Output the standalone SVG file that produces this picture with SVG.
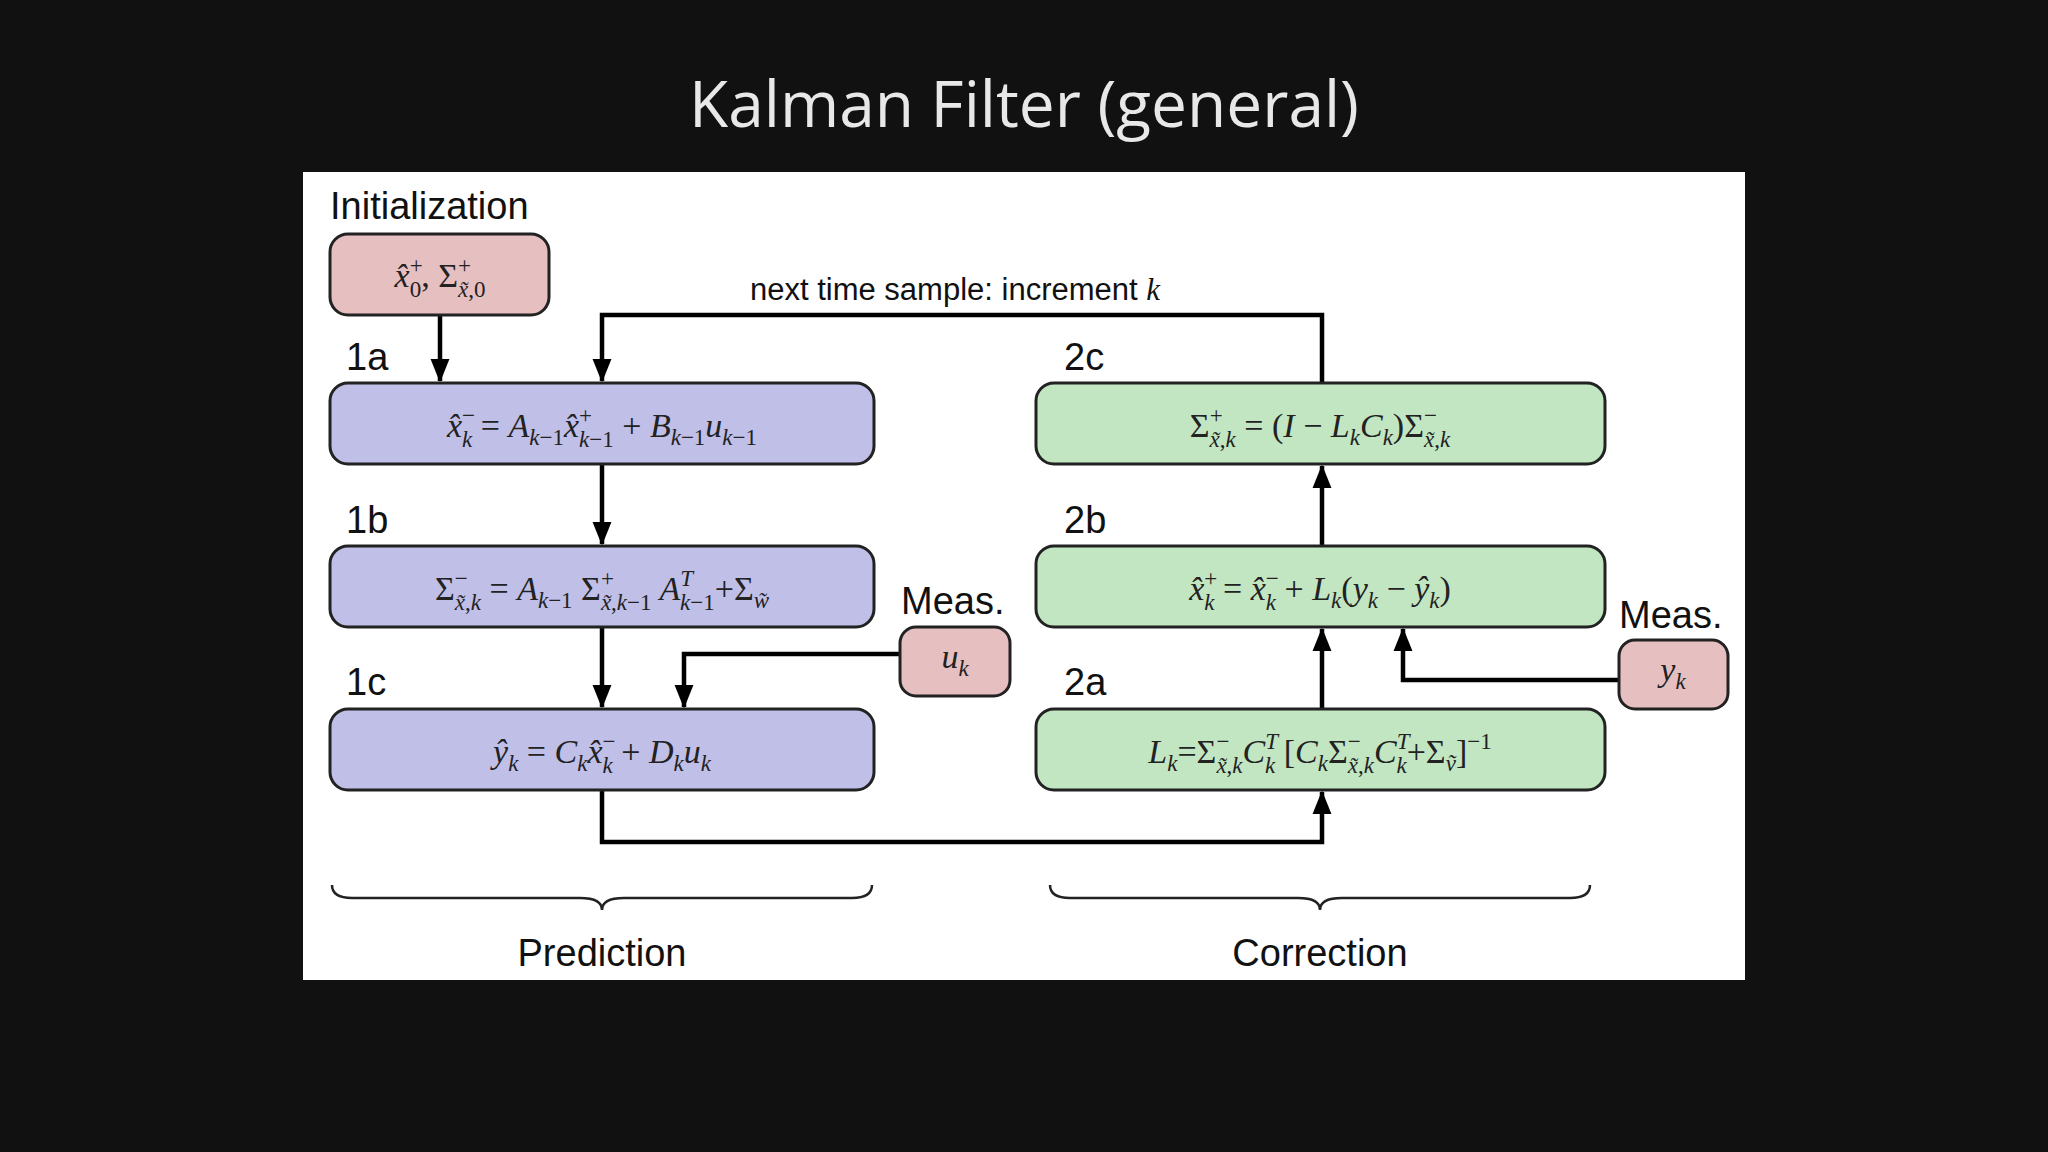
<svg xmlns="http://www.w3.org/2000/svg" width="2048" height="1152" viewBox="0 0 2048 1152">
<defs>
<marker id="ah" markerUnits="userSpaceOnUse" markerWidth="24" markerHeight="30" refX="28" refY="12" viewBox="0 0 30 24" orient="auto"><path d="M0,0 L30,12 L0,24 Z" fill="#000"/></marker>
<style>
.lbl{font-family:"Liberation Sans",Arial,sans-serif;font-size:38px;fill:#111}
.m{font-family:"Liberation Serif","Times New Roman",serif;font-style:italic;font-size:34px;fill:#222}
.n{font-style:normal}
.s{font-size:23px}
.box{stroke:#222;stroke-width:3}
.p{fill:#bfbfe8}.g{fill:#c2e6c2}.r{fill:#e6bfc0}
.c{fill:none;stroke:#000;stroke-width:4.5}
</style>
</defs>
<rect width="2048" height="1152" fill="#111"/>
<text x="1024" y="127" text-anchor="middle" font-family="'Open Sans',sans-serif" font-size="64" fill="#e8e8e8">Kalman Filter (general)</text>
<rect x="303" y="172" width="1442" height="808" fill="#fff"/>

<g id="connectors">
<path class="c" d="M440,315 V381" marker-end="url(#ah)"/>
<path class="c" d="M1322,383 V315 H602 V381" marker-end="url(#ah)"/>
<path class="c" d="M602,464 V544" marker-end="url(#ah)"/>
<path class="c" d="M602,627 V707" marker-end="url(#ah)"/>
<path class="c" d="M900,654 H684 V707" marker-end="url(#ah)"/>
<path class="c" d="M602,790 V842 H1322 V792" marker-end="url(#ah)"/>
<path class="c" d="M1322,709 V629" marker-end="url(#ah)"/>
<path class="c" d="M1322,546 V466" marker-end="url(#ah)"/>
<path class="c" d="M1619,680 H1403 V629" marker-end="url(#ah)"/>
<text x="955" y="300" text-anchor="middle" font-family="'Liberation Sans',sans-serif" font-size="31" fill="#111">next time sample: increment <tspan font-family="'Liberation Serif',serif" font-style="italic">k</tspan></text>
</g>

<g id="init">
<text class="lbl" x="330" y="219">Initialization</text>
<rect class="box r" x="330" y="234" width="219" height="81" rx="18"/>
<text class="m" x="440" y="287" text-anchor="middle">x̂<tspan class="s n" dy="-14">+</tspan><tspan class="s n" dx="-13" dy="24">0</tspan><tspan class="n" dy="-10">, Σ</tspan><tspan class="s n" dy="-14">+</tspan><tspan class="s" dx="-13" dy="24">x̃<tspan class="n">,0</tspan></tspan></text>
</g>

<g id="n1a">
<text class="lbl" x="346" y="370">1a</text>
<rect class="box p" x="330" y="383" width="544" height="81" rx="18"/>
<text class="m" x="602" y="437" text-anchor="middle">x̂<tspan class="s n" dy="-14">−</tspan><tspan class="s" dx="-13" dy="24">k</tspan><tspan class="n" dy="-10"> = </tspan>A<tspan class="s" dy="8">k<tspan class="n">−1</tspan></tspan><tspan dy="-8">x̂</tspan><tspan class="s n" dy="-14">+</tspan><tspan class="s" dx="-13" dy="24">k<tspan class="n">−1</tspan></tspan><tspan class="n" dy="-10"> + </tspan>B<tspan class="s" dy="8">k<tspan class="n">−1</tspan></tspan><tspan dy="-8">u</tspan><tspan class="s" dy="8">k<tspan class="n">−1</tspan></tspan></text>
</g>

<g id="n1b">
<text class="lbl" x="346" y="533">1b</text>
<rect class="box p" x="330" y="546" width="544" height="81" rx="18"/>
<text class="m" x="602" y="600" text-anchor="middle"><tspan class="n">Σ</tspan><tspan class="s n" dy="-14">−</tspan><tspan class="s" dx="-13" dy="24">x̃<tspan class="n">,</tspan>k</tspan><tspan class="n" dy="-10"> = </tspan>A<tspan class="s" dy="8">k<tspan class="n">−1</tspan></tspan><tspan class="n" dy="-8"> Σ</tspan><tspan class="s n" dy="-14">+</tspan><tspan class="s" dx="-13" dy="24">x̃<tspan class="n">,</tspan>k<tspan class="n">−1</tspan></tspan><tspan dy="-10"> A</tspan><tspan class="s" dy="-14">T</tspan><tspan class="s" dx="-13" dy="24">k<tspan class="n">−1</tspan></tspan><tspan class="n" dy="-10">+Σ</tspan><tspan class="s" dy="8">w̃</tspan></text>
</g>

<g id="n1c">
<text class="lbl" x="346" y="695">1c</text>
<rect class="box p" x="330" y="709" width="544" height="81" rx="18"/>
<text class="m" x="602" y="763" text-anchor="middle">ŷ<tspan class="s" dy="8">k</tspan><tspan class="n" dy="-8"> = </tspan>C<tspan class="s" dy="8">k</tspan><tspan dy="-8">x̂</tspan><tspan class="s n" dy="-14">−</tspan><tspan class="s" dx="-13" dy="24">k</tspan><tspan class="n" dy="-10"> + </tspan>D<tspan class="s" dy="8">k</tspan><tspan dy="-8">u</tspan><tspan class="s" dy="8">k</tspan></text>
</g>

<g id="meas-u">
<text class="lbl" x="901" y="614">Meas.</text>
<rect class="box r" x="900" y="627" width="110" height="69" rx="16"/>
<text class="m" x="955" y="668" text-anchor="middle">u<tspan class="s" dy="8">k</tspan></text>
</g>

<g id="n2c">
<text class="lbl" x="1064" y="370">2c</text>
<rect class="box g" x="1036" y="383" width="569" height="81" rx="18"/>
<text class="m" x="1320" y="437" text-anchor="middle"><tspan class="n">Σ</tspan><tspan class="s n" dy="-14">+</tspan><tspan class="s" dx="-13" dy="24">x̃<tspan class="n">,</tspan>k</tspan><tspan class="n" dy="-10"> = (</tspan>I<tspan class="n"> − </tspan>L<tspan class="s" dy="8">k</tspan><tspan dy="-8">C</tspan><tspan class="s" dy="8">k</tspan><tspan class="n" dy="-8">)Σ</tspan><tspan class="s n" dy="-14">−</tspan><tspan class="s" dx="-13" dy="24">x̃<tspan class="n">,</tspan>k</tspan></text>
</g>

<g id="n2b">
<text class="lbl" x="1064" y="533">2b</text>
<rect class="box g" x="1036" y="546" width="569" height="81" rx="18"/>
<text class="m" x="1320" y="600" text-anchor="middle">x̂<tspan class="s n" dy="-14">+</tspan><tspan class="s" dx="-13" dy="24">k</tspan><tspan class="n" dy="-10"> = </tspan>x̂<tspan class="s n" dy="-14">−</tspan><tspan class="s" dx="-13" dy="24">k</tspan><tspan class="n" dy="-10"> + </tspan>L<tspan class="s" dy="8">k</tspan><tspan class="n" dy="-8">(</tspan>y<tspan class="s" dy="8">k</tspan><tspan class="n" dy="-8"> − </tspan>ŷ<tspan class="s" dy="8">k</tspan><tspan class="n" dy="-8">)</tspan></text>
</g>

<g id="n2a">
<text class="lbl" x="1064" y="695">2a</text>
<rect class="box g" x="1036" y="709" width="569" height="81" rx="18"/>
<text class="m" x="1320" y="763" text-anchor="middle">L<tspan class="s" dy="8">k</tspan><tspan class="n" dy="-8">=Σ</tspan><tspan class="s n" dy="-14">−</tspan><tspan class="s" dx="-13" dy="24">x̃<tspan class="n">,</tspan>k</tspan><tspan dy="-10">C</tspan><tspan class="s" dy="-14">T</tspan><tspan class="s" dx="-13" dy="24">k</tspan><tspan class="n" dy="-10"> [</tspan>C<tspan class="s" dy="8">k</tspan><tspan class="n" dy="-8">Σ</tspan><tspan class="s n" dy="-14">−</tspan><tspan class="s" dx="-13" dy="24">x̃<tspan class="n">,</tspan>k</tspan><tspan dy="-10">C</tspan><tspan class="s" dy="-14">T</tspan><tspan class="s" dx="-13" dy="24">k</tspan><tspan class="n" dy="-10">+Σ</tspan><tspan class="s" dy="8">ṽ</tspan><tspan class="n" dy="-8">]</tspan><tspan class="s n" dy="-14">−1</tspan></text>
</g>

<g id="meas-y">
<text class="lbl" x="1619" y="628">Meas.</text>
<rect class="box r" x="1619" y="640" width="109" height="69" rx="16"/>
<text class="m" x="1673" y="681" text-anchor="middle">y<tspan class="s" dy="8">k</tspan></text>
</g>

<g id="prediction">
<path d="M332,885 Q332,898 352,898 L580,898 Q602,898 602,910 Q602,898 624,898 L852,898 Q872,898 872,885" fill="none" stroke="#222" stroke-width="2.5"/>
<text class="lbl" x="602" y="966" text-anchor="middle">Prediction</text>
</g>
<g id="correction">
<path d="M1050,885 Q1050,898 1070,898 L1298,898 Q1320,898 1320,910 Q1320,898 1342,898 L1570,898 Q1590,898 1590,885" fill="none" stroke="#222" stroke-width="2.5"/>
<text class="lbl" x="1320" y="966" text-anchor="middle">Correction</text>
</g>
</svg>
